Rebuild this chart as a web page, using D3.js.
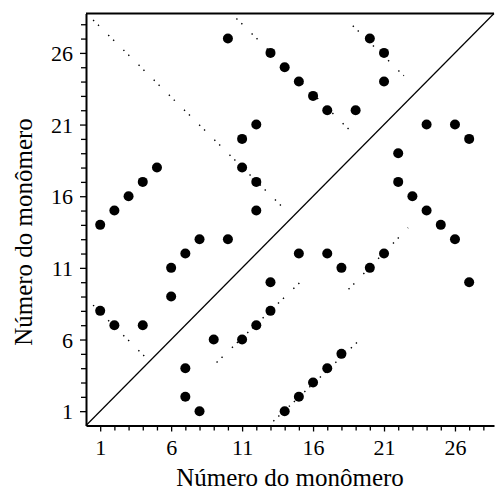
<!DOCTYPE html>
<html>
<head>
<meta charset="utf-8">
<script src="https://cdn.jsdelivr.net/npm/d3@7/dist/d3.min.js"></script>
<style>
html,body{margin:0;padding:0;background:#fff;}
svg{display:block;}
text{font-family:"Liberation Serif","Times New Roman",serif;fill:#000;}
</style>
</head>
<body>
<svg id="chart" width="495" height="493"></svg>
<script>
// Contact map: monomer i (x) in contact with monomer j (y)
const contactX = [10,13,14,15,16,17,19,20,21,21,24,26,27,22,22,23,24,25,26,27,15,17,18,20,21,14,15,16,17,18,1,2,3,4,5,8,10,7,6,6,1,2,4,13,13,12,11,9,7,7,8,12,11,11,12,12];
const contactY = [27,26,25,24,23,22,22,27,26,24,21,21,20,19,17,16,15,14,13,10,12,12,11,11,12,1,2,3,4,5,14,15,16,17,18,13,13,12,11,9,8,7,7,10,8,7,6,6,4,2,1,21,20,18,17,15];

// Dotted guide segments (start x, start y, end x, end y)
const segX1 = [0.5, 10.6, 18.8, 0.5, 9.2, 18.5, 13.2];
const segY1 = [28.3, 28.4, 27.9, 8.4, 4.4, 9.5, 0.3];
const segX2 = [14.3, 18.8, 22.4, 4.1, 15.4, 22.7, 19.1];
const segY2 = [14.8, 20.4, 24.4, 4.85, 10.3, 13.8, 5.8];

const tickValues = d3.range(1, 29);
const tickLabels = [1, 6, 11, 16, 21, 26];
const axisMax = 28.75;
const xTitle = "Número do monômero";
const yTitle = "Número do monômero";

const svg = d3.select("#chart");
const x = d3.scaleLinear().domain([0, axisMax]).range([86, 494]);
const y = d3.scaleLinear().domain([0, axisMax]).range([425.5, 13.5]);

// diagonal
svg.append("line")
  .attr("x1", x(0)).attr("y1", y(0))
  .attr("x2", x(axisMax)).attr("y2", y(axisMax))
  .attr("stroke", "#000").attr("stroke-width", 1.2);

// dotted segments
const segs = d3.range(segX1.length).map(i => ({x1: segX1[i], y1: segY1[i], x2: segX2[i], y2: segY2[i]}));
svg.append("g").selectAll("line").data(segs).join("line")
  .attr("x1", d => x(d.x1)).attr("y1", d => y(d.y1))
  .attr("x2", d => x(d.x2)).attr("y2", d => y(d.y2))
  .attr("stroke", "#000").attr("stroke-width", 1.4)
  .attr("stroke-dasharray", "1.4,5.5,1.4,13");

// contact dots
const pts = contactX.map((v, i) => ({x: v, y: contactY[i]}));
svg.append("g").selectAll("circle").data(pts).join("circle")
  .attr("cx", d => x(d.x)).attr("cy", d => y(d.y))
  .attr("r", 5).attr("fill", "#000");

// axes
const xAxis = d3.axisBottom(x).tickValues(tickValues)
  .tickSize(5).tickSizeOuter(0)
  .tickFormat(d => tickLabels.includes(d) ? d : "");
const gx = svg.append("g").attr("transform", `translate(0,${y(0)})`).call(xAxis);
gx.select(".domain").attr("stroke-width", 2);
gx.selectAll(".tick line").attr("stroke-width", 1.3)
  .attr("y2", d => tickLabels.includes(d) ? 6 : 5);
gx.selectAll(".tick text").attr("font-size", 22).attr("dy", 0).attr("y", 29)
  .style("font-family", '"Liberation Serif",serif');

const yAxis = d3.axisLeft(y).tickValues(tickValues)
  .tickSize(5).tickSizeOuter(0)
  .tickFormat(d => tickLabels.includes(d) ? d : "");
const gy = svg.append("g").attr("transform", `translate(${x(0)},0)`).call(yAxis);
gy.select(".domain").attr("stroke-width", 2);
gy.selectAll(".tick line").attr("stroke-width", 1.3)
  .attr("x2", d => tickLabels.includes(d) ? -6 : -5);
gy.selectAll(".tick text").attr("font-size", 22).attr("x", -13).attr("dy", "0.35em")
  .style("font-family", '"Liberation Serif",serif');

// top border
svg.append("line")
  .attr("x1", x(0)).attr("y1", y(axisMax))
  .attr("x2", x(axisMax)).attr("y2", y(axisMax))
  .attr("stroke", "#000").attr("stroke-width", 2);

// titles
svg.append("text").attr("x", 290).attr("y", 486)
  .attr("text-anchor", "middle").attr("font-size", 25)
  .text(xTitle);
svg.append("text")
  .attr("transform", "translate(32,232) rotate(-90)")
  .attr("text-anchor", "middle").attr("font-size", 25)
  .text(yTitle);
</script>
</body>
</html>
